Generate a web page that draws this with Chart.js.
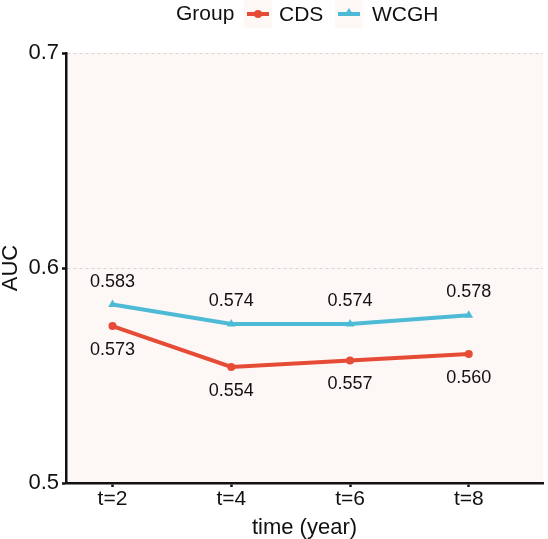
<!DOCTYPE html>
<html>
<head>
<meta charset="utf-8">
<script src="https://cdn.jsdelivr.net/npm/chart.js@4/dist/chart.umd.min.js"></script>
<style>
  html, body { margin: 0; padding: 0; background: #fff; }
  #wrap { width: 548px; height: 539px; position: relative; }
</style>
</head>
<body>
<div id="wrap"><canvas id="auc-chart"></canvas></div>
<script>
// ====== DATA ======
const timePoints = [2, 4, 6, 8];
const tickLabels = ["t=2", "t=4", "t=6", "t=8"];
const groupNames = ["CDS", "WCGH"];
const cdsAuc  = [0.573, 0.554, 0.557, 0.560];
const wcghAuc = [0.583, 0.574, 0.574, 0.578];
const yTicks  = [0.5, 0.6, 0.7];

const FONT = "'Liberation Sans', Arial, Helvetica, sans-serif";
const RED  = "#E64B35";
const BLUE = "#4DBBD5";
const PANEL = "#fdf7f6";

function toPoints(values) {
  return timePoints.map((t, i) => ({ x: t, y: values[i] }));
}

// panel background
const panelBg = {
  id: "panelBg",
  beforeDraw(chart) {
    const { ctx, chartArea: a } = chart;
    ctx.save();
    ctx.fillStyle = PANEL;
    ctx.fillRect(a.left, a.top, a.right - a.left, a.bottom - a.top);
    ctx.restore();
  }
};

// value labels next to each point
const valueLabels = {
  id: "valueLabels",
  afterDatasetsDraw(chart) {
    const ctx = chart.ctx;
    ctx.save();
    ctx.font = "18px " + FONT;
    ctx.fillStyle = "#111";
    ctx.textAlign = "center";
    ctx.textBaseline = "middle";
    chart.data.datasets.forEach((ds, di) => {
      const meta = chart.getDatasetMeta(di);
      const dy = ds.label === "WCGH" ? -23 : 24;
      meta.data.forEach((pt, i) => {
        ctx.fillText(ds.data[i].y.toFixed(3), pt.x, pt.y + dy);
      });
    });
    ctx.restore();
  }
};

// ggplot style legend on top: "Group  -o- CDS  -^- WCGH"
const topLegend = {
  id: "topLegend",
  afterDraw(chart) {
    const ctx = chart.ctx;
    const yMid = 14;
    ctx.save();
    ctx.font = "21px " + FONT;
    ctx.fillStyle = "#111";
    ctx.textBaseline = "middle";
    ctx.textAlign = "left";
    ctx.fillText("Group", 176, yMid);

    const keys = [
      { name: groupNames[0], color: RED,  style: "circle",   kx: 244, tx: 279 },
      { name: groupNames[1], color: BLUE, style: "triangle", kx: 335, tx: 372 }
    ];
    keys.forEach(k => {
      ctx.fillStyle = PANEL;
      ctx.fillRect(k.kx, 0, 28, 28);
      ctx.strokeStyle = k.color;
      ctx.lineWidth = 4;
      ctx.beginPath();
      ctx.moveTo(k.kx + 3, yMid);
      ctx.lineTo(k.kx + 25, yMid);
      ctx.stroke();
      ctx.fillStyle = k.color;
      if (k.style === "circle") {
        ctx.beginPath();
        ctx.arc(k.kx + 14, yMid, 4, 0, Math.PI * 2);
        ctx.fill();
      } else {
        ctx.beginPath();
        ctx.moveTo(k.kx + 14, yMid - 6);
        ctx.lineTo(k.kx + 19, yMid + 2);
        ctx.lineTo(k.kx + 9, yMid + 2);
        ctx.closePath();
        ctx.fill();
      }
      ctx.fillStyle = "#111";
      ctx.fillText(k.name, k.tx, yMid + 1);
    });
    ctx.restore();
  }
};

const ctx = document.getElementById("auc-chart").getContext("2d");
new Chart(ctx, {
  type: "line",
  data: {
    datasets: [
      {
        label: groupNames[0],
        data: toPoints(cdsAuc),
        borderColor: RED,
        backgroundColor: RED,
        borderWidth: 4,
        pointStyle: "circle",
        pointRadius: 4,
        pointBorderWidth: 0,
        tension: 0
      },
      {
        label: groupNames[1],
        data: toPoints(wcghAuc),
        borderColor: BLUE,
        backgroundColor: BLUE,
        borderWidth: 4,
        pointStyle: "triangle",
        pointRadius: 5,
        pointBorderWidth: 0,
        tension: 0
      }
    ]
  },
  options: {
    responsive: true,
    maintainAspectRatio: false,
    animation: false,
    events: [],
    layout: { padding: { top: 53, right: 0, bottom: 0, left: 0 } },
    plugins: {
      legend: { display: false },
      tooltip: { enabled: false }
    },
    scales: {
      x: {
        type: "linear",
        min: 1.2167,
        max: 9.25,
        afterBuildTicks: scale => {
          scale.ticks = timePoints.map(v => ({ value: v }));
        },
        afterFit: scale => { scale.height = 56; },
        ticks: {
          color: "#111",
          font: { family: FONT, size: 21 },
          padding: 0,
          maxRotation: 0,
          callback: value => tickLabels[timePoints.indexOf(value)]
        },
        grid: {
          drawOnChartArea: false,
          drawTicks: true,
          tickLength: 4,
          tickColor: "#111",
          tickWidth: 2.5
        },
        border: { color: "#111", width: 2.5 },
        title: {
          display: true,
          text: "time (year)",
          color: "#111",
          font: { family: FONT, size: 22, lineHeight: 1 },
          padding: { top: 0, bottom: 0 }
        }
      },
      y: {
        min: 0.5,
        max: 0.7,
        afterBuildTicks: scale => {
          scale.ticks = yTicks.map(v => ({ value: v }));
        },
        afterFit: scale => { scale.width = 66; },
        ticks: {
          color: "#111",
          font: { family: FONT, size: 22 },
          padding: 3,
          callback: value => value.toFixed(1)
        },
        grid: {
          color: "#d4d4d4",
          lineWidth: 1,
          drawTicks: true,
          tickLength: 4,
          tickColor: "#111",
          tickWidth: 2.5
        },
        border: { color: "#111", width: 2.5, dash: [3, 3] },
        title: {
          display: true,
          text: "AUC",
          color: "#111",
          font: { family: FONT, size: 22, lineHeight: 1 },
          padding: { top: 0, bottom: 0 }
        }
      }
    }
  },
  plugins: [panelBg, valueLabels, topLegend]
});
</script>
</body>
</html>
